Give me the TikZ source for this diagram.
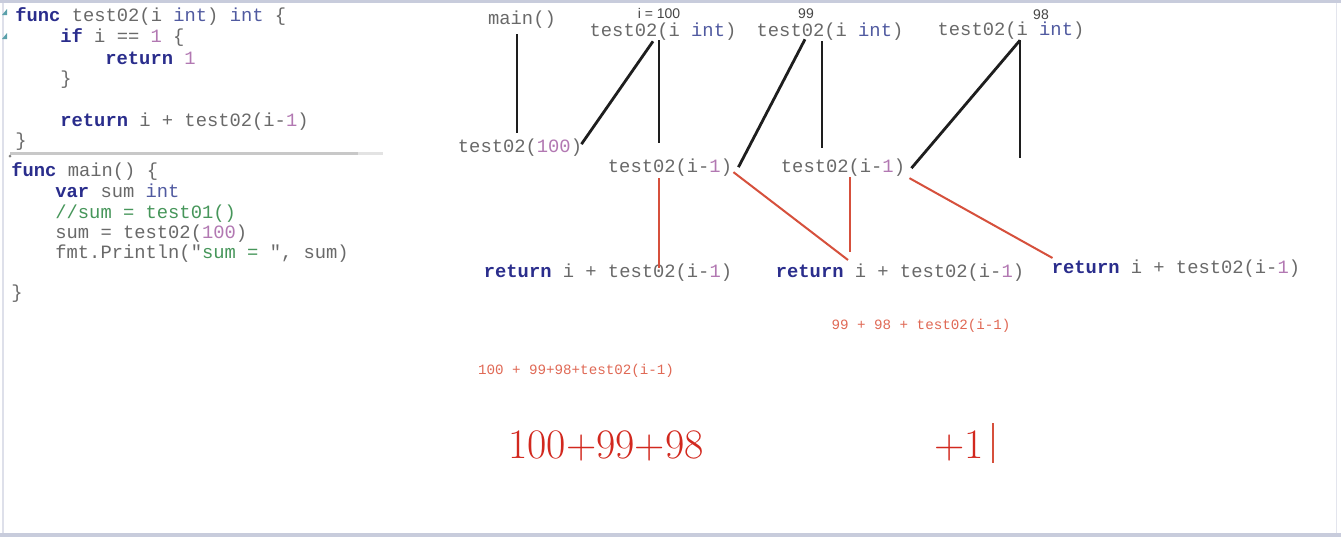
\documentclass[tikz,border=0pt]{standalone}
\usepackage{fontspec}
\setmonofont{Liberation Mono}
\newfontfamily\lblfamily{Liberation Sans}
\definecolor{kwblue}{RGB}{42,45,140}
\definecolor{codegray}{RGB}{105,105,105}
\definecolor{numpink}{RGB}{178,120,178}
\definecolor{typblue}{RGB}{80,90,160}
\definecolor{cmtgreen}{RGB}{70,150,90}
\definecolor{lblgray}{RGB}{70,70,70}
\definecolor{linegray}{RGB}{30,30,30}
\definecolor{linered}{RGB}{214,80,60}
\definecolor{notered}{RGB}{224,105,85}
\definecolor{bigred}{RGB}{210,40,30}
\definecolor{framegray}{RGB}{200,204,220}
\definecolor{sepgray}{RGB}{200,200,200}
\definecolor{markteal}{RGB}{90,160,170}
\newcommand\kwd[1]{\textcolor{kwblue}{\textbf{#1}}}
\newcommand\numc[1]{\textcolor{numpink}{#1}}
\newcommand\typ[1]{\textcolor{typblue}{#1}}
\newcommand\cmt[1]{\textcolor{cmtgreen}{#1}}
\begin{document}
\begin{tikzpicture}[x=0.5pt,y=-0.5pt,
		code/.style={font=\ttfamily\fontsize{9.4}{11}\selectfont,text=codegray,inner sep=0pt,anchor=base west},
		fn/.style={font=\ttfamily\fontsize{9.4}{11}\selectfont,text=codegray,inner sep=1pt,anchor=base},
		lbl/.style={font=\lblfamily\fontsize{7}{8}\selectfont,text=lblgray,anchor=base},
		note/.style={font=\ttfamily\fontsize{7.1}{8}\selectfont,text=notered,anchor=base},
		big/.style={font=\fontsize{21}{25}\selectfont,text=bigred,anchor=base},
		callline/.style={line width=1.4pt,draw=linegray},
		retline/.style={line width=1pt,draw=linered}]
		\useasboundingbox (0,0) rectangle (1341,537);
		%Rahmen
		\fill [white] (0,0) rectangle (1341,537);
		\fill [framegray] (0,0) rectangle (1341,3);
		\fill [framegray] (0,533) rectangle (1341,537);
		\draw [line width=1pt,framegray!60] (3,3) -- (3,533);
		\draw [line width=0.5pt,framegray!50] (1336,3) -- (1336,533);
		\fill [markteal] (2,15) -- (7,9) -- (7,15) -- cycle;
		\fill [markteal] (2,39) -- (7,33) -- (7,39) -- cycle;
		\draw [line width=1.5pt,sepgray] (10,153) -- (358,153);
		\draw [line width=1.5pt,sepgray!50] (358,153) -- (383,153);
		\fill [gray] (10,156) circle [radius=1.5];
		%Code
		\node [code] (c1) at (15,21) {\kwd{func} test02(i \typ{int}) \typ{int} \{};
		\node [code] (c2) at (60,42) {\kwd{if} i == \numc{1} \{};
		\node [code] (c3) at (105,64) {\kwd{return} \numc{1}};
		\node [code] (c4) at (60,84) {\}};
		\node [code] (c5) at (60,126) {\kwd{return} i + test02(i-\numc{1})};
		\node [code] (c6) at (15,146) {\}};
		\node [code] (c7) at (11,176) {\kwd{func} main() \{};
		\node [code] (c8) at (55,197) {\kwd{var} sum \typ{int}};
		\node [code] (c9) at (55,218) {\cmt{//sum = test01()}};
		\node [code] (c10) at (55,238) {sum = test02(\numc{100})};
		\node [code] (c11) at (55,258) {fmt.Println("\cmt{sum = }", sum)};
		\node [code] (c12) at (11,298) {\}};
		%Aufrufe
		\node [fn] (main) at (522,24) {main()};
		\node [lbl] (arg1) at (659,18) {i = 100};
		\node [fn] (def1) at (663,36) {test02(i \typ{int})};
		\node [lbl] (arg2) at (806,18) {99};
		\node [fn] (def2) at (830,36) {test02(i \typ{int})};
		\node [lbl] (arg3) at (1041,19) {98};
		\node [fn] (def3) at (1011,35) {test02(i \typ{int})};
		\node [fn] (call0) at (520,152) {test02(\numc{100})};
		\node [fn] (call1) at (670,172) {test02(i-\numc{1})};
		\node [fn] (call2) at (843,172) {test02(i-\numc{1})};
		\coordinate (end3) at (1020,158);
		\draw [callline] ([shift={(-5,4)}]main.south) -- ([shift={(-3,-3)}]call0.north);
		\draw [callline] ([shift={(-10,-1)}]def1.south) -- ([shift={(-3,-3)}]call0.east);
		\draw [callline] ([shift={(-4,-2)}]def1.south) -- ([shift={(-11,-13)}]call1.north);
		\draw [callline] ([shift={(-25,-3)}]def2.south) -- ([shift={(4,0)}]call1.east);
		\draw [callline] ([shift={(-8,-1)}]def2.south) -- ([shift={(-21,-8)}]call2.north);
		\draw [callline] ([shift={(9,-1)}]def3.south) -- ([shift={(4,1)}]call2.east);
		\draw [callline] ([shift={(9,-1)}]def3.south) -- (end3);
		%Rueckgaben
		\node [fn] (ret1) at (608,277) {\kwd{return} i + test02(i-\numc{1})};
		\node [fn] (ret2) at (900,277) {\kwd{return} i + test02(i-\numc{1})};
		\node [fn] (ret3) at (1176,273) {\kwd{return} i + test02(i-\numc{1})};
		\draw [retline] ([shift={(-11,0)}]call1.south) -- ([shift={(51,7)}]ret1.north);
		\draw [retline] ([shift={(-1,5)}]call1.east) -- ([shift={(-52,-1)}]ret2.north);
		\draw [retline] ([shift={(7,-1)}]call2.south) -- ([shift={(-50,-9)}]ret2.north);
		\draw [retline] ([shift={(2,11)}]call2.east) -- ([shift={(3,1)}]ret3.north west);
		%Summen
		\node [note] (sum2) at (921,329) {99 + 98 + test02(i-1)};
		\node [note] (sum1) at (576,374) {100 + 99+98+test02(i-1)};
		\node [big] (total) at (606,458) {100+99+98};
		\node [big] (last) at (959,458) {+1};
		\draw [line width=0.6pt,linered] (993,423) -- (993,463);
\end{tikzpicture}
\end{document}
